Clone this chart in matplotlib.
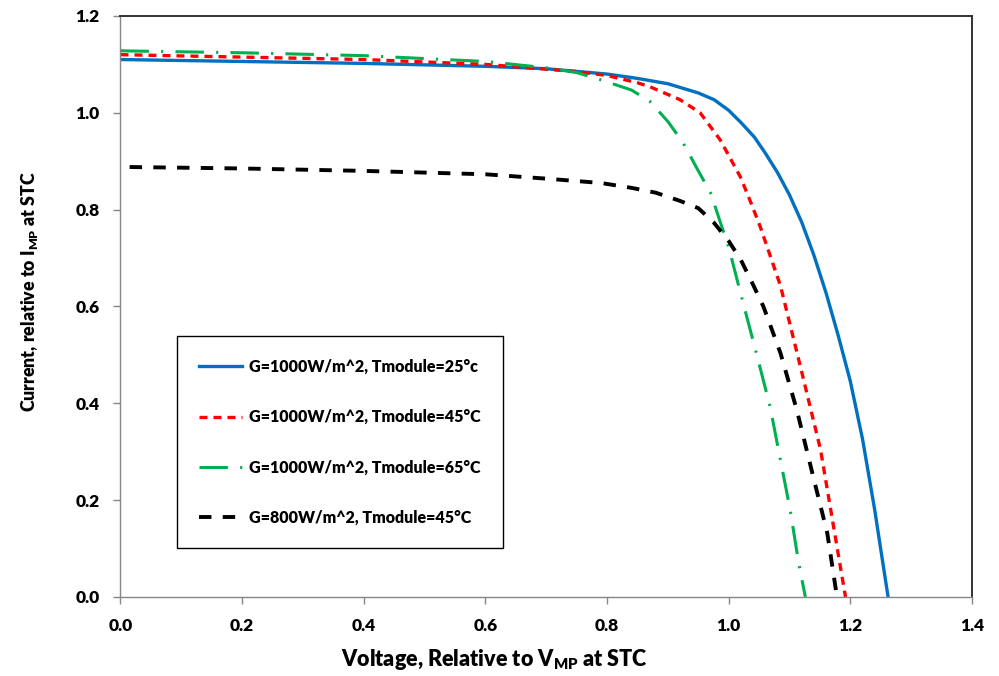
import matplotlib
matplotlib.use("Agg")
import matplotlib.pyplot as plt

# ---------------------------------------------------------
# I-V curves, values
# ---------------------------------------------------------
v_25 = [0.0, 0.2, 0.4, 0.6, 0.7, 0.8, 0.85, 0.9, 0.95, 0.976, 1.0, 1.02, 1.042,
        1.06, 1.08, 1.1, 1.12, 1.14, 1.16, 1.18, 1.2, 1.22, 1.24, 1.25, 1.262]
i_25 = [1.110, 1.106, 1.102, 1.096, 1.091, 1.080, 1.071, 1.060, 1.041, 1.027, 1.005,
        0.980, 0.950, 0.917, 0.877, 0.830, 0.774, 0.706, 0.628, 0.540, 0.445, 0.326,
        0.180, 0.098, 0.0]

v_45 = [0.0, 0.2, 0.4, 0.6, 0.7, 0.75, 0.8, 0.85, 0.87, 0.92, 0.953, 0.986, 1.019,
        1.035, 1.052, 1.085, 1.118, 1.151, 1.172, 1.192]
i_45 = [1.120, 1.115, 1.110, 1.100, 1.090, 1.085, 1.077, 1.062, 1.054, 1.027, 1.000,
        0.944, 0.868, 0.819, 0.764, 0.643, 0.475, 0.304, 0.148, 0.0]

v_65 = [0.0, 0.2, 0.4, 0.6, 0.7, 0.75, 0.79, 0.84, 0.87, 0.9, 0.925, 0.95, 0.97,
        1.0, 1.02, 1.047, 1.068, 1.085, 1.101, 1.115, 1.126]
i_65 = [1.128, 1.124, 1.118, 1.106, 1.093, 1.083, 1.068, 1.047, 1.024, 0.982, 0.938,
        0.880, 0.835, 0.722, 0.625, 0.496, 0.393, 0.283, 0.180, 0.070, 0.0]

v_800 = [0.015, 0.2, 0.4, 0.6, 0.7, 0.79, 0.84, 0.88, 0.92, 0.95, 0.975, 1.0, 1.02,
         1.04, 1.057, 1.085, 1.112, 1.139, 1.162, 1.178]
i_800 = [0.888, 0.885, 0.880, 0.873, 0.864, 0.855, 0.845, 0.835, 0.818, 0.803, 0.774,
         0.735, 0.696, 0.645, 0.600, 0.504, 0.386, 0.248, 0.132, 0.0]

labels = ["G=1000W/m^2, Tmodule=25°c",
          "G=1000W/m^2, Tmodule=45°C",
          "G=1000W/m^2, Tmodule=65°C",
          "G=800W/m^2, Tmodule=45°C"]

x_ticks = [0.0, 0.2, 0.4, 0.6, 0.8, 1.0, 1.2, 1.4]
y_ticks = [0.0, 0.2, 0.4, 0.6, 0.8, 1.0, 1.2]

# ---------------------------------------------------------
# Style
# ---------------------------------------------------------
W = "heavy"
plt.rcParams["font.family"] = ["Lato", "DejaVu Sans"]
plt.rcParams["font.weight"] = W
plt.rcParams["mathtext.fontset"] = "custom"
plt.rcParams["mathtext.rm"] = "Lato:heavy"
plt.rcParams["mathtext.bf"] = "Lato:heavy"
plt.rcParams["mathtext.it"] = "Lato:heavy"

fig = plt.figure(figsize=(9.99, 6.76), dpi=100)
ax = fig.add_axes([0.1206, 0.1169, 0.8524, 0.8595])

ax.plot(v_25, i_25, color="#0070c0", lw=2.4, label=labels[0])
ax.plot(v_45, i_45, color="#ff0000", lw=2.4, dashes=(2.4, 1.8), label=labels[1])
ax.plot(v_65, i_65, color="#00b050", lw=2.2, dashes=(9.3, 4.0, 0.7, 4.0), label=labels[2])
ax.plot(v_800, i_800, color="#000000", lw=2.8, dashes=(3.2, 2.9), label=labels[3])

ax.set_xlim(0, 1.4)
ax.set_ylim(0, 1.2)
ax.set_xticks(x_ticks)
ax.set_yticks(y_ticks)
ax.set_xticklabels([f"{t:.1f}" for t in x_ticks], fontweight=W)
ax.set_yticklabels([f"{t:.1f}" for t in y_ticks], fontweight=W)
ax.tick_params(direction="out", length=5, width=1, color="#868686",
               labelsize=12.5, pad=10)

for side in ["left", "bottom"]:
    ax.spines[side].set_color("#868686")
    ax.spines[side].set_linewidth(1.0)
for side in ["top", "right"]:
    ax.spines[side].set_color("#333333")
    ax.spines[side].set_linewidth(1.4)

ax.set_xlabel(r"Voltage, Relative to V$_{\rm MP}$ at STC", fontsize=15.5,
              fontweight=W)
ax.set_ylabel(r"Current, relative to I$_{\rm MP}$ at STC", fontsize=12.8,
              fontweight=W)
ax.xaxis.set_label_coords(0.4387, -0.086)
ax.yaxis.set_label_coords(-0.094, 0.525)

leg = ax.legend(loc="lower left", bbox_to_anchor=(0.066, 0.084),
                prop={"size": 11.5, "weight": W},
                frameon=True, fancybox=False, edgecolor="#000000",
                borderpad=1.4, labelspacing=2.15, handlelength=2.7,
                handletextpad=0.4, borderaxespad=0)
leg.get_frame().set_linewidth(1.0)
leg.get_frame().set_alpha(1.0)

fig.savefig("out.png", dpi=100)
